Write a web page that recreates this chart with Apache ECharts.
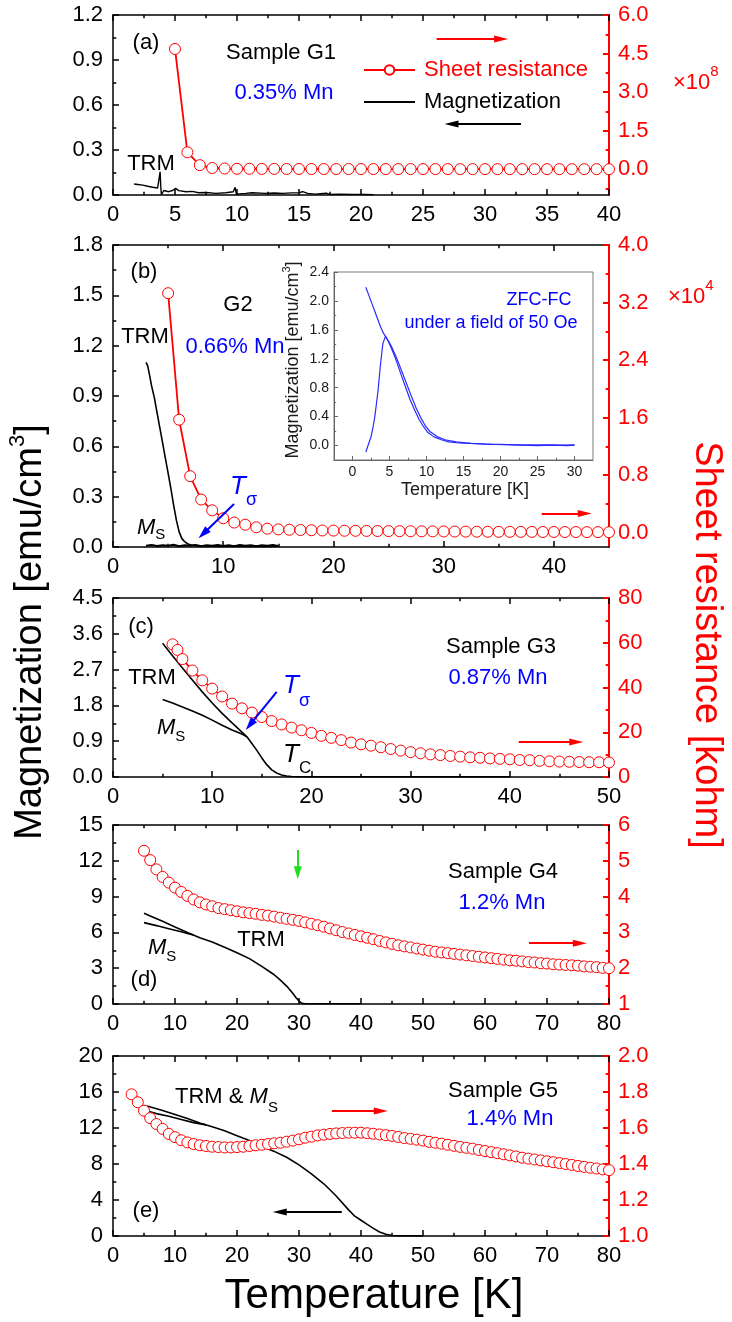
<!DOCTYPE html>
<html>
<head>
<meta charset="utf-8">
<script src="https://cdn.jsdelivr.net/npm/echarts@6/dist/echarts.min.js"></script>
<style>
  html, body { margin: 0; padding: 0; background: #fff; }
  #chart { width: 732px; height: 1322px; }
</style>
</head>
<body>
<div id="chart"></div>
<script>
// ---------- (a) Sample G1, 0.35% Mn ----------
const tempA_R = [5,6,7,8,9,10,11,12,13,14,15,16,17,18,19,20,21,22,23,24,25,26,27,28,29,30,31,32,33,34,35,36,37,38,39,40];
const resA = [4.68,0.66,0.16,0.05,0.03,0.02,0.02,0.015,0.015,0.012,0.012,0.01,0.01,0.01,0.01,0.009,0.009,0.009,0.008,0.008,0.008,0.008,0.007,0.007,0.007,0.007,0.006,0.006,0.006,0.006,0.006,0.005,0.005,0.005,0.005,0.005]; // x10^8 ohm
const tempA_M = [1.7,2.0,2.4,2.8,3.2,3.6,3.75,3.8,3.85,3.9,4.1,4.5,4.8,5.05,5.3,5.9,6.4,6.9,7.5,8.3,9.1,9.7,9.85,9.95,10.1,10.7,11.2,12.3,13.0,13.7,14.4,15.0,15.3,15.45,15.7,16.3,17.2,17.3,17.45,18.2,19.3,20.3,21.0];
const magA = [0.073,0.07,0.066,0.058,0.052,0.047,0.06,0.155,0.06,0.003,0.03,0.022,0.03,0.044,0.029,0.022,0.024,0.015,0.017,0.011,0.015,0.022,0.051,0.006,0.014,0.011,0.015,0.011,0.013,0.011,0.014,0.015,0.022,0.033,0.011,0.006,0.012,0.022,0.004,0.006,0.004,0.003,0.002];

// ---------- (b) Sample G2, 0.66% Mn ----------
const tempB_R = [5,6,7,8,9,10,11,12,13,14,15,16,17,18,19,20,21,22,23,24,25,26,27,28,29,30,31,32,33,34,35,36,37,38,39,40,41,42,43,44,45];
const resB = [3.33,1.57,0.785,0.46,0.31,0.20,0.14,0.11,0.074,0.055,0.045,0.04,0.036,0.033,0.03,0.028,0.026,0.025,0.024,0.022,0.021,0.02,0.019,0.018,0.017,0.016,0.015,0.014,0.013,0.012,0.011,0.011,0.01,0.01,0.009,0.009,0.008,0.008,0.007,0.007,0.006]; // x10^4 ohm
const tempB_TRM = [3.0,3.15,3.3,3.5,3.75,4.0,4.25,4.5,4.75,5.0,5.25,5.5,5.75,6.0,6.25,6.5,6.8,7.1,7.5,8.0,9,10,11,12,13,14,15];
const trmB = [1.10,1.08,1.03,0.96,0.89,0.80,0.71,0.62,0.53,0.44,0.35,0.25,0.16,0.09,0.05,0.032,0.018,0.012,0.008,0.005,0.006,0.004,0.006,0.004,0.005,0.004,0.005];
const tempB_MS = [3,3.5,4,4.5,5,5.5,6,6.5,7,7.5,8,8.5,9,9.5,10,10.5,11,11.5,12,12.5,13,13.5,14,14.5,15];
const msB = [0.008,0.012,0.006,0.011,0.007,0.013,0.005,0.01,0.008,0.012,0.004,0.011,0.007,0.012,0.006,0.01,0.005,0.012,0.007,0.011,0.004,0.01,0.008,0.012,0.006];

// ---------- (b) inset: ZFC / FC at 50 Oe ----------
const tempZFC = [1.8,2.1,2.5,2.8,3.0,3.2,3.45,3.75,4.1,4.45,4.8,5.2,5.6,6.0,6.6,7.2,7.8,8.4,9.0,9.6,10.2,11.0,12.0,13.0,14.0,15.0,17.0,19.0,21.0,23.0,25.0,27.0,29.0,30.0];
const zfc = [-0.09,0.0,0.12,0.27,0.39,0.55,0.76,1.09,1.41,1.51,1.45,1.36,1.26,1.15,0.97,0.8,0.63,0.49,0.36,0.26,0.18,0.12,0.08,0.05,0.04,0.033,0.025,0.015,0.012,0.005,0.0,0.005,0.0,0.005];
const tempFC = [1.8,2.2,2.6,3.0,3.4,3.8,4.2,4.6,5.0,5.4,5.8,6.2,6.8,7.4,8.0,8.6,9.2,9.8,10.5,11.5,12.5,14.0,16.0,18.0,20.0,22.0,24.0,26.0,28.0,30.0];
const fc = [2.19,2.08,1.97,1.86,1.75,1.64,1.55,1.49,1.42,1.34,1.25,1.15,0.99,0.83,0.67,0.52,0.39,0.28,0.19,0.12,0.08,0.05,0.03,0.02,0.015,0.01,0.008,0.01,0.005,0.008];

// ---------- (c) Sample G3, 0.87% Mn ----------
const tempC_R = [6,6.5,7,8,9,10,11,12,13,14,15,16,17,18,19,20,21,22,23,24,25,26,27,28,29,30,31,32,33,34,35,36,37,38,39,40,41,42,43,44,45,46,47,48,49,50];
const resC = [59.3,56.8,52.7,47.6,43.2,39.5,36.0,32.8,30.7,28.8,26.8,25.0,23.5,22.1,20.9,19.7,18.4,17.5,16.5,15.4,14.6,14.0,13.3,12.5,11.8,11.1,10.6,10.1,9.8,9.4,9.1,8.8,8.6,8.3,8.1,7.9,7.6,7.5,7.2,7.0,6.9,6.8,6.7,6.6,6.6,6.5]; // kohm
const tempC_TRM = [5,6,7,8,9,10,11,12,13,13.5,14,14.5,15,15.5,16,16.5,17,17.5,18,19,20,22,25,28,31,34,37,40];
const trmC = [3.36,3.05,2.74,2.44,2.14,1.86,1.6,1.36,1.13,1.01,0.84,0.67,0.48,0.31,0.18,0.1,0.05,0.025,0.012,0.006,0.004,0.003,0.004,0.003,0.003,0.002,0.002,0.002];
const tempC_MS = [5,6,7,8,9,10,11,12,13,13.5];
const msC = [1.95,1.86,1.76,1.66,1.55,1.43,1.3,1.18,1.08,1.01];

// ---------- (d) Sample G4, 1.2% Mn ----------
const tempD_R = [5,6,7,8,9,10,11,12,13,14,15,16,17,18,19,20,21,22,23,24,25,26,27,28,29,30,31,32,33,34,35,36,37,38,39,40,41,42,43,44,45,46,47,48,49,50,51,52,53,54,55,56,57,58,59,60,61,62,63,64,65,66,67,68,69,70,71,72,73,74,75,76,77,78,79,80];
const resD = [5.28,5.02,4.76,4.55,4.39,4.25,4.13,4.02,3.92,3.84,
              3.78,3.73,3.68,3.65,3.62,3.59,3.56,3.54,3.52,3.49,
              3.47,3.44,3.41,3.38,3.35,3.32,3.28,3.24,3.2,3.16,
              3.11,3.06,3.01,2.97,2.93,2.89,2.85,2.81,2.76,2.72,
              2.68,2.64,2.61,2.58,2.55,2.52,2.49,2.46,2.44,2.42,
              2.40,2.38,2.36,2.34,2.32,2.30,2.28,2.26,2.24,2.22,
              2.21,2.19,2.17,2.16,2.14,2.13,2.11,2.10,2.09,2.08,
              2.07,2.05,2.04,2.03,2.01,2.0]; // kohm
const tempD_TRM = [5,6,8,10,12,14,16,18,20,22,24,26,27,28,29,29.5,30,30.5,31,33,36,40];
const trmD = [7.6,7.38,6.93,6.46,6.0,5.55,5.2,4.75,4.3,3.8,3.15,2.45,2.0,1.5,0.9,0.55,0.25,0.05,0.02,0.02,0.02,0.02];
const tempD_MS = [5,7,9,11,12,13];
const msD = [6.82,6.57,6.31,6.05,5.92,5.78];

// ---------- (e) Sample G5, 1.4% Mn ----------
const tempE_R = [3,4,5,6,7,8,9,10,11,12,13,14,15,16,17,18,19,20,21,22,23,24,25,26,27,28,29,30,31,32,33,34,35,36,37,38,39,40,41,42,43,44,45,46,47,48,49,50,51,52,53,54,55,56,57,58,59,60,61,62,63,64,65,66,67,68,69,70,71,72,73,74,75,76,77,78,79,80];
const resE = [1.787,1.743,1.696,1.655,1.622,1.595,1.567,1.549,1.532,1.52,
              1.511,1.504,1.5,1.496,1.494,1.492,1.492,1.494,1.496,1.5,
              1.504,1.507,1.511,1.515,1.518,1.524,1.53,1.537,1.546,1.552,
              1.559,1.563,1.567,1.57,1.572,1.574,1.574,1.574,1.571,1.568,
              1.564,1.56,1.556,1.55,1.544,1.54,1.535,1.53,1.523,1.518,
              1.513,1.507,1.501,1.495,1.49,1.485,1.478,1.472,1.466,1.46,
              1.454,1.448,1.442,1.435,1.43,1.425,1.42,1.415,1.41,1.405,
              1.4,1.395,1.389,1.384,1.379,1.375,1.37,1.366]; // kohm
const tempE_TRM = [5.5,8,10,12,14,16,18,20,22,24,26,28,30,32,34,36,38,39,40,41,42,43,44,45,46,48,50];
const trmE = [14.45,13.95,13.5,13.05,12.55,12.15,11.7,11.15,10.6,10.0,9.4,8.75,7.9,6.9,5.8,4.45,2.9,2.2,1.75,1.3,0.85,0.45,0.19,0.05,0.01,0.01,0.01];
const tempE_MS = [5.5,7,9,11,13,15];
const msE = [13.9,13.6,13.3,12.95,12.6,12.35];

// ---------- tick positions for axes whose range does not start on a tick ----------
const ticksResA = [0, 1.5, 3, 4.5, 6];
const minorResA = [-0.75, 0.75, 2.25, 3.75, 5.25];
const ticksTempB = [0, 10, 20, 30, 40];
const minorTempB = [5, 15, 25, 35];
const ticksResB = [0, 0.8, 1.6, 2.4, 3.2, 4.0];
const minorResB = [0.4, 1.2, 2.0, 2.8, 3.6];
const ticksInsetT = [0, 5, 10, 15, 20, 25, 30];
const minorInsetT = [2.5, 7.5, 12.5, 17.5, 22.5, 27.5];
const ticksInsetM = [0, 0.4, 0.8, 1.2, 1.6, 2.0, 2.4];
const minorInsetM = [0.2, 0.6, 1.0, 1.4, 1.8, 2.2];

// ---------- direction arrows: [tailX, tailY, headX, headY] in data units ----------
const arrowA_res = [26.1, 5.07, 31.3, 5.07];
const arrowA_mag = [32.9, 0.473, 27.3, 0.473];
const arrowB_res = [38.9, 0.265, 42.8, 0.265];
const arrowB_sigma = [10.98, 0.256, 8.19, 0.079];
const arrowC_res = [40.9, 15.6, 46.7, 15.6];
const arrowC_sigma = [16.5, 2.14, 13.8, 1.31];
const arrowD_mark = [29.8, 12.9, 29.8, 11.0];
const arrowD_res = [67.1, 2.70, 75.3, 2.70];
const arrowE_mag = [36.9, 2.67, 26.9, 2.67];
const arrowE_res = [35.3, 1.694, 43.2, 1.694];

// ================= chart construction =================
const FONT = '"Liberation Sans", Arimo, Arial, Helvetica, sans-serif';
const RED = '#ff0000', BLUE = '#0000ff', BLACK = '#000000', GREEN = '#22dd22', CURVE = '#2a2aff';
const fix1 = v => v.toFixed(1);
const pts = (xs, ys) => xs.map((x, i) => [x, ys[i]]);

const grids = [
  { left: 113, top: 15,   width: 496, height: 180 },
  { left: 113, top: 245,  width: 496, height: 302 },
  { left: 113, top: 598,  width: 496, height: 179 },
  { left: 113, top: 825,  width: 496, height: 179 },
  { left: 113, top: 1056, width: 496, height: 180 },
  { left: 334, top: 272,  width: 259, height: 188, show: true, backgroundColor: '#ffffff', borderColor: '#7a7a7a', borderWidth: 1 }
];

const xAxes = [], yAxes = [];

function makeAxis(list, o) {
  const c = o.color || BLACK;
  const lw = o.lw || 1.5;
  const tl = o.tick || 6;
  const custom = !!o.ticks;
  const ax = {
    type: 'value', gridIndex: o.grid, position: o.pos, min: o.min, max: o.max,
    splitLine: { show: false },
    axisLine: { show: true, onZero: false, lineStyle: { color: c, width: lw } },
    axisTick: { show: true, inside: true, length: tl, lineStyle: { color: c, width: lw } },
    minorTick: { show: !custom, splitNumber: 2, length: tl * 0.55, lineStyle: { color: c, width: lw } },
    axisLabel: { show: !!o.labels, color: o.labelColor || c, fontSize: o.fs || 22, fontFamily: FONT,
                 margin: o.margin != null ? o.margin : 9 },
    silent: true
  };
  if (o.interval != null) ax.interval = o.interval;
  if (o.fmt) ax.axisLabel.formatter = o.fmt;
  if (custom) { ax.axisTick.customValues = o.ticks; ax.axisLabel.customValues = o.ticks; }
  list.push(ax);
  const idx = list.length - 1;
  if (o.minorTicks) {
    // companion axis carrying only the short intermediate ticks
    list.push({
      type: 'value', gridIndex: o.grid, position: o.pos, min: o.min, max: o.max,
      splitLine: { show: false }, axisLine: { show: false, onZero: false }, axisLabel: { show: false },
      axisTick: { show: true, inside: true, length: tl * 0.55, customValues: o.minorTicks, lineStyle: { color: c, width: lw } },
      minorTick: { show: false }, silent: true
    });
  }
  return idx;
}

function buildPanel(g, xo, ylo, yro) {
  const x = makeAxis(xAxes, Object.assign({ grid: g, pos: 'bottom', labels: true }, xo));
  makeAxis(xAxes, Object.assign({ grid: g, pos: 'top', labels: false }, xo));
  const yl = makeAxis(yAxes, Object.assign({ grid: g, pos: 'left', labels: true, margin: 10 }, ylo));
  const yr = makeAxis(yAxes, Object.assign({ grid: g, pos: 'right', labels: true, color: RED, lw: 2, margin: 9 }, yro));
  return { x, yl, yr };
}

const A = buildPanel(0, { min: 0, max: 40, interval: 5 },
                        { min: 0, max: 1.2, interval: 0.3, fmt: fix1 },
                        { min: -1, max: 6, ticks: ticksResA, minorTicks: minorResA, fmt: fix1 });
const B = buildPanel(1, { min: 0, max: 45, ticks: ticksTempB, minorTicks: minorTempB },
                        { min: 0, max: 1.8, interval: 0.3, fmt: fix1 },
                        { min: -0.2, max: 4, ticks: ticksResB, minorTicks: minorResB, fmt: fix1 });
const C = buildPanel(2, { min: 0, max: 50, interval: 10 },
                        { min: 0, max: 4.5, interval: 0.9, fmt: fix1 },
                        { min: 0, max: 80, interval: 20 });
const D = buildPanel(3, { min: 0, max: 80, interval: 10 },
                        { min: 0, max: 15, interval: 3 },
                        { min: 1, max: 6, interval: 1 });
const E = buildPanel(4, { min: 0, max: 80, interval: 10 },
                        { min: 0, max: 20, interval: 4 },
                        { min: 1, max: 2, interval: 0.2, fmt: fix1 });
const I = {
  x: makeAxis(xAxes, { grid: 5, pos: 'bottom', labels: true, min: -2.5, max: 32.5, ticks: ticksInsetT, minorTicks: minorInsetT,
                       color: '#666666', labelColor: '#1a1a1a', fs: 14, tick: 4, lw: 1, margin: 5 }),
  y: makeAxis(yAxes, { grid: 5, pos: 'left', labels: true, min: -0.2, max: 2.4, ticks: ticksInsetM, minorTicks: minorInsetM,
                       fmt: fix1, color: '#666666', labelColor: '#1a1a1a', fs: 14, tick: 4, lw: 1, margin: 5 })
};

function arrowLine(a, color, width, head) {
  return [
    { coord: [a[0], a[1]], symbol: 'none', lineStyle: { color, width, type: 'solid' } },
    { coord: [a[2], a[3]], symbol: 'triangle', symbolSize: head }
  ];
}
function marks(lines) {
  return { silent: true, animation: false, label: { show: false }, emphasis: { disabled: true },
           symbol: ['none', 'triangle'], lineStyle: { type: 'solid' }, data: lines };
}

function resSeries(name, P, xs, ys, extra) {
  return Object.assign({
    name, type: 'line', xAxisIndex: P.x, yAxisIndex: P.yr, data: pts(xs, ys),
    symbol: 'circle', symbolSize: 11, showSymbol: true,
    lineStyle: { color: RED, width: 1.8 },
    itemStyle: { color: '#ffffff', borderColor: RED, borderWidth: 1 },
    z: 4, silent: true, emphasis: { disabled: true }
  }, extra || {});
}
function magSeries(name, xi, yi, xs, ys, extra) {
  return Object.assign({
    name, type: 'line', xAxisIndex: xi, yAxisIndex: yi, data: pts(xs, ys),
    symbol: 'none', lineStyle: { color: BLACK, width: 1.6 }, itemStyle: { color: BLACK },
    z: 3, silent: true, emphasis: { disabled: true }
  }, extra || {});
}

const series = [
  resSeries('Sheet resistance', A, tempA_R, resA, { markLine: marks([arrowLine(arrowA_res, RED, 2, [7, 14])]) }),
  magSeries('Magnetization', A.x, A.yl, tempA_M, magA, { lineStyle: { color: BLACK, width: 1.4 },
            markLine: marks([arrowLine(arrowA_mag, BLACK, 2, [7, 14])]) }),

  resSeries('G2 sheet resistance', B, tempB_R, resB, { markLine: marks([arrowLine(arrowB_res, RED, 2, [7, 14])]) }),
  magSeries('G2 TRM', B.x, B.yl, tempB_TRM, trmB, { markLine: marks([arrowLine(arrowB_sigma, BLUE, 2, [8, 13])]) }),
  magSeries('G2 MS', B.x, B.yl, tempB_MS, msB, { lineStyle: { color: BLACK, width: 2 } }),

  magSeries('ZFC', I.x, I.y, tempZFC, zfc, { lineStyle: { color: CURVE, width: 1.2 }, itemStyle: { color: CURVE } }),
  magSeries('FC', I.x, I.y, tempFC, fc, { lineStyle: { color: CURVE, width: 1.2 }, itemStyle: { color: CURVE } }),

  resSeries('G3 sheet resistance', C, tempC_R, resC, { markLine: marks([arrowLine(arrowC_res, RED, 2, [7, 14])]) }),
  magSeries('G3 TRM', C.x, C.yl, tempC_TRM, trmC, { markLine: marks([arrowLine(arrowC_sigma, BLUE, 2, [8, 13])]) }),
  magSeries('G3 MS', C.x, C.yl, tempC_MS, msC),

  resSeries('G4 sheet resistance', D, tempD_R, resD, { markLine: marks([arrowLine(arrowD_res, RED, 2, [7, 14])]) }),
  magSeries('G4 TRM', D.x, D.yl, tempD_TRM, trmD, { markLine: marks([arrowLine(arrowD_mark, GREEN, 2, [8, 13])]) }),
  magSeries('G4 MS', D.x, D.yl, tempD_MS, msD),

  resSeries('G5 sheet resistance', E, tempE_R, resE, { markLine: marks([arrowLine(arrowE_res, RED, 2, [7, 14])]) }),
  magSeries('G5 TRM', E.x, E.yl, tempE_TRM, trmE, { markLine: marks([arrowLine(arrowE_mag, BLACK, 2, [7, 14])]) }),
  magSeries('G5 MS', E.x, E.yl, tempE_MS, msE)
];

// ---------- annotation text ----------
function txt(x, y, text, o) {
  o = o || {};
  return {
    type: 'text', x, y, rotation: o.rot || 0, silent: true, z: 100,
    style: { text, fill: o.color || BLACK, fontSize: o.fs || 22, fontFamily: FONT,
             fontStyle: o.italic ? 'italic' : 'normal',
             align: o.align || 'center', verticalAlign: 'middle' }
  };
}
// text with a sub- or superscript; dy > 0 lowers the script, dy < 0 raises it
function scripted(x, yc, main, script, o) {
  const ms = o.fs || 22, ss = o.ss || 15, dy = o.dy;
  let pm = 0, ps = 0;
  if (dy >= 0) ps = Math.max(0, ms / 2 + dy - ss / 2);
  else pm = Math.max(0, -dy + ss / 2 - ms / 2);
  const tok = (size, style, pad) => ({ fontFamily: FONT, fontSize: size, fontStyle: style, verticalAlign: 'top', padding: [pad, 0, 0, 0] });
  let text = '';
  if (o.pre) text += '{p|' + o.pre + '}';
  text += '{m|' + main + '}{s|' + script + '}';
  if (o.post) text += '{p|' + o.post + '}';
  const off = pm + ms / 2;
  const rotated = !!o.rot;
  return {
    type: 'text', silent: true, z: 100, rotation: o.rot || 0,
    x: rotated ? x - off : x, y: rotated ? yc : yc - off,
    style: {
      text, fill: o.color || BLACK, align: o.align || 'left', verticalAlign: 'top',
      rich: { p: tok(ms, 'normal', pm), m: tok(ms, o.italic ? 'italic' : 'normal', pm), s: tok(ss, 'normal', ps) }
    }
  };
}

const graphics = [
  // (a)
  txt(146, 43, '(a)'),
  txt(281, 53, 'Sample G1'),
  txt(284, 93, '0.35% Mn', { color: BLUE }),
  txt(151, 164, 'TRM'),
  scripted(673, 83, '×10', '8', { color: RED, dy: -11, ss: 15 }),
  // (b)
  txt(144, 272, '(b)'),
  txt(238, 305, 'G2'),
  txt(145, 337, 'TRM'),
  txt(235, 347, '0.66% Mn', { color: BLUE }),
  scripted(137, 528, 'M', 'S', { italic: true, dy: 7, ss: 15 }),
  scripted(230, 487, 'T', 'σ', { italic: true, color: BLUE, fs: 26, ss: 18, dy: 13 }),
  scripted(668, 297, '×10', '4', { color: RED, dy: -11, ss: 15 }),
  // inset
  txt(539, 300, 'ZFC-FC', { color: BLUE, fs: 18 }),
  txt(491, 323, 'under a field of 50 Oe', { color: BLUE, fs: 18 }),
  txt(465, 490, 'Temperature [K]', { color: '#1a1a1a', fs: 18 }),
  scripted(293, 360, 'Magnetization [emu/cm', '3', { post: ']', rot: Math.PI / 2, align: 'center', fs: 18, ss: 11, dy: -6, color: '#1a1a1a' }),
  // (c)
  txt(141, 627, '(c)'),
  txt(152, 678, 'TRM'),
  scripted(157, 728, 'M', 'S', { italic: true, dy: 9, ss: 15 }),
  scripted(283, 686, 'T', 'σ', { italic: true, color: BLUE, fs: 26, ss: 18, dy: 15 }),
  scripted(283, 755, 'T', 'C', { italic: true, fs: 26, ss: 17, dy: 13 }),
  txt(501, 647, 'Sample G3'),
  txt(498, 678, '0.87% Mn', { color: BLUE }),
  // (d)
  scripted(148, 948, 'M', 'S', { italic: true, dy: 9, ss: 15 }),
  txt(261, 940, 'TRM'),
  txt(144, 980, '(d)'),
  txt(503, 872, 'Sample G4'),
  txt(502, 903, '1.2% Mn', { color: BLUE }),
  // (e)
  scripted(175, 1097, 'M', 'S', { pre: 'TRM & ', italic: true, dy: 11, ss: 15 }),
  txt(146, 1211, '(e)'),
  txt(503, 1091, 'Sample G5'),
  txt(510, 1119, '1.4% Mn', { color: BLUE }),
  // shared axis titles
  scripted(31, 632, 'Magnetization [emu/cm', '3', { post: ']', rot: Math.PI / 2, align: 'center', fs: 38, ss: 22, dy: -13 }),
  txt(706, 645, 'Sheet resistance [kohm]', { color: RED, fs: 38, rot: -Math.PI / 2 }),
  txt(374, 1296, 'Temperature [K]', { fs: 42 })
];

const chart = echarts.init(document.getElementById('chart'), null, { renderer: 'canvas' });
chart.setOption({
  animation: false,
  backgroundColor: '#ffffff',
  textStyle: { fontFamily: FONT },
  grid: grids,
  xAxis: xAxes,
  yAxis: yAxes,
  legend: {
    selectedMode: false, orient: 'vertical', left: 358, top: 54,
    itemWidth: 51, itemHeight: 12, itemGap: 10,
    textStyle: { fontSize: 22, fontFamily: FONT, padding: [0, 0, 0, 4] },
    data: [
      { name: 'Sheet resistance', textStyle: { color: RED } },
      { name: 'Magnetization', icon: 'path://M0,0H51V2H0Z', textStyle: { color: BLACK } }
    ]
  },
  series,
  graphic: graphics
});
</script>
</body>
</html>
